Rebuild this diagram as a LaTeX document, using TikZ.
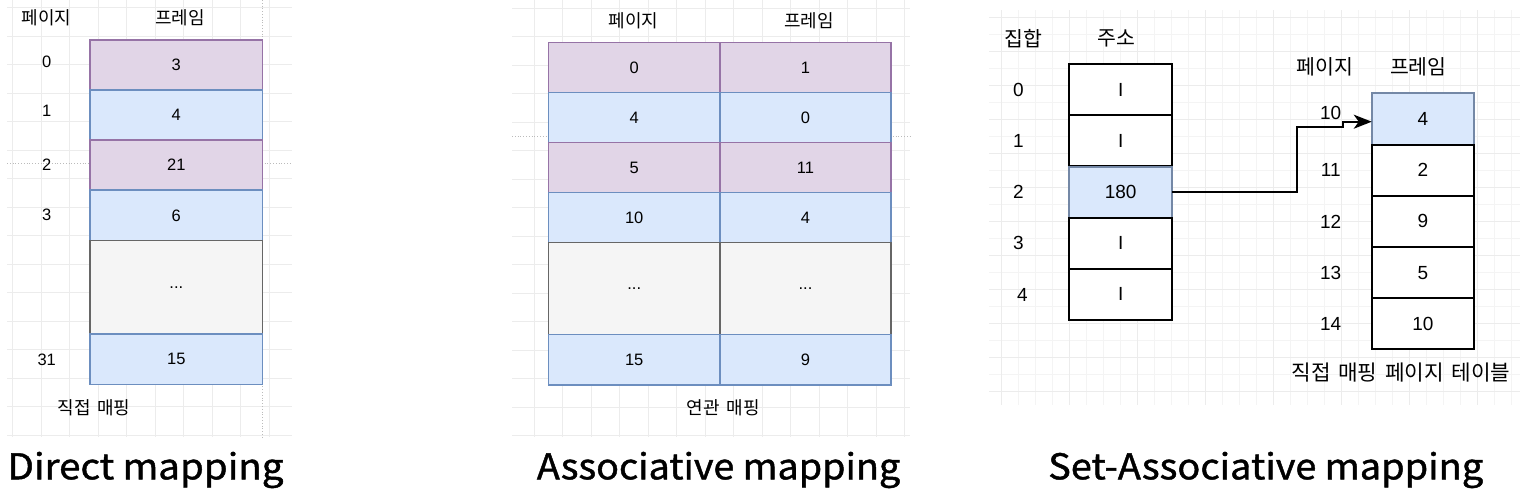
\documentclass[tikz,border=0pt]{standalone}
\usepackage{fontspec}
\setmainfont{Liberation Sans}
\newfontfamily\kr{Noto Sans CJK KR}
\newfontfamily\krw[WordSpace=1.6]{Noto Sans CJK KR}
\newfontfamily\krt[FakeBold=1.2]{Noto Sans CJK KR}
\usetikzlibrary{arrows.meta}
\definecolor{pfill}{HTML}{E1D5E7}
\definecolor{pline}{HTML}{9673A6}
\definecolor{bfill}{HTML}{DAE8FC}
\definecolor{bline}{HTML}{6C8EBF}
\definecolor{gfill}{HTML}{F5F5F5}
\definecolor{gline}{HTML}{666666}
\definecolor{gridc}{HTML}{ECECEC}
\definecolor{gridm}{HTML}{F4F4F4}
\definecolor{guide}{HTML}{BBBBBB}
\tikzset{
  cell/.style={draw, rectangle, inner sep=0pt, outer sep=0pt, line width=1.3pt,
    font=\fontsize{16.5}{19}\selectfont},
  pcell/.style={cell, fill=pfill, draw=pline},
  bcell/.style={cell, fill=bfill, draw=bline},
  gcell/.style={cell, fill=gfill, draw=gline},
  rcell/.style={draw=black, fill=white, rectangle, inner sep=0pt, outer sep=0pt,
    line width=1.8pt, font=\fontsize{19}{22}\selectfont},
  rbcell/.style={rcell, fill=bfill, draw=bline!60!gray},
  num/.style={inner sep=0pt, font=\fontsize{16.5}{19}\selectfont},
  rnum/.style={inner sep=0pt, font=\fontsize{19}{22}\selectfont},
  ko/.style={inner sep=0pt, font=\kr\fontsize{18}{21}\selectfont},
  rko/.style={inner sep=0pt, font=\kr\fontsize{20.5}{24}\selectfont},
  rkow/.style={inner sep=0pt, font=\krw\fontsize{21.3}{24}\selectfont},
  title/.style={inner sep=0pt, anchor=base west},
  link/.style={line width=2pt, -{Stealth[length=18pt, width=14pt, inset=5pt]}},
}
\newcommand{\ttlbox}[2]{\resizebox{#1pt}{26pt}{\krt\fontsize{36}{40}\selectfont\vphantom{H}\smash{#2}}}
\newcommand{\tsp}{\hspace{0.22em}}
\begin{document}
\begin{tikzpicture}[x=1pt, y=-1pt]
\useasboundingbox (0,0) rectangle (1520,493);
% grids
\foreach \x in {12.7,41.2,...,292} \draw[gridc, line width=0.8pt] (\x,0) -- (\x,437);
\foreach \y in {7.5,36,...,437} \draw[gridc, line width=0.8pt] (7,\y) -- (292,\y);
\foreach \x in {534.2,562.7,...,910} \draw[gridc, line width=0.8pt] (\x,0) -- (\x,437);
\foreach \y in {8.3,36.8,...,437} \draw[gridc, line width=0.8pt] (512,\y) -- (910,\y);
\foreach \x in {1001.7,1018.7,...,1520} \draw[gridm, line width=0.8pt] (\x,10) -- (\x,405);
\foreach \y in {17.7,34.7,...,405} \draw[gridm, line width=0.8pt] (989,\y) -- (1520,\y);
\foreach \x in {1001.7,1069.7,...,1520} \draw[gridc, line width=0.8pt] (\x,10) -- (\x,405);
\foreach \y in {17.7,51.7,...,405} \draw[gridc, line width=0.8pt] (989,\y) -- (1520,\y);
% guide lines
\draw[guide, dotted, line width=0.8pt] (7,163.3) -- (292,163.3);
\draw[guide, dotted, line width=0.8pt] (262.7,0) -- (262.7,437);
\draw[guide, dotted, line width=0.8pt] (512,136) -- (910,136);

% ---------- Direct mapping ----------
\node[ko] (dhp) at (46.7,17.5) {페이지};
\node[ko] (dhf) at (180,17.5) {프레임};
\node[pcell, minimum width=172.7pt, minimum height=50pt] (d0) at (176.3,65) {3};
\node[bcell, minimum width=172.7pt, minimum height=50pt] (d1) at (176.3,115) {4};
\node[pcell, minimum width=172.7pt, minimum height=50pt] (d2) at (176.3,165) {21};
\node[bcell, minimum width=172.7pt, minimum height=50.7pt] (d3) at (176.3,215.4) {6};
\node[gcell, minimum width=172.7pt, minimum height=93.3pt] (d4) at (176.3,287.4) {...};
\node[bcell, minimum width=172.7pt, minimum height=50.3pt] (d5) at (176.3,359.2) {15};
\node[num] (dp0) at (46.7,61.7) {0};
\node[num] (dp1) at (46.7,111) {1};
\node[num] (dp2) at (46.7,165) {2};
\node[num] (dp3) at (46.7,215) {3};
\node[num] (dp31) at (46.7,360) {31};
\node[ko] (dcap) at (94,408) {직접 매핑};

% ---------- Associative mapping ----------
\node[ko] (ahp) at (633.3,20.7) {페이지};
\node[ko] (ahf) at (809,20.7) {프레임};
\node[pcell, minimum width=171.7pt, minimum height=50pt] (ap0) at (634.2,67.7) {0};
\node[pcell, minimum width=171pt, minimum height=50pt] (af0) at (805.5,67.7) {1};
\node[bcell, minimum width=171.7pt, minimum height=50pt] (ap1) at (634.2,117.7) {4};
\node[bcell, minimum width=171pt, minimum height=50pt] (af1) at (805.5,117.7) {0};
\node[pcell, minimum width=171.7pt, minimum height=50pt] (ap2) at (634.2,167.7) {5};
\node[pcell, minimum width=171pt, minimum height=50pt] (af2) at (805.5,167.7) {11};
\node[bcell, minimum width=171.7pt, minimum height=50pt] (ap3) at (634.2,217.7) {10};
\node[bcell, minimum width=171pt, minimum height=50pt] (af3) at (805.5,217.7) {4};
\node[gcell, minimum width=171.7pt, minimum height=91.6pt] (ap4) at (634.2,288.5) {...};
\node[gcell, minimum width=171pt, minimum height=91.6pt] (af4) at (805.5,288.5) {...};
\node[bcell, minimum width=171.7pt, minimum height=50.7pt] (ap5) at (634.2,359.7) {15};
\node[bcell, minimum width=171pt, minimum height=50.7pt] (af5) at (805.5,359.7) {9};
\node[ko] (acap) at (723.3,407.3) {연관 매핑};

% ---------- Set-Associative mapping ----------
\node[rko] (shs) at (1023.3,38.3) {집합};
\node[rko] (sha) at (1116.7,38.3) {주소};
\node[rcell, minimum width=102.7pt, minimum height=51pt] (a0) at (1120.7,89.8) {I};
\node[rcell, minimum width=102.7pt, minimum height=51pt] (a1) at (1120.7,140.8) {I};
\node[rbcell, minimum width=102.7pt, minimum height=51pt] (a2) at (1120.7,192.3) {180};
\node[rcell, minimum width=102.7pt, minimum height=51pt] (a3) at (1120.7,243.3) {I};
\node[rcell, minimum width=102.7pt, minimum height=51pt] (a4) at (1120.7,294.2) {I};
\node[rnum] (s0) at (1018.3,90) {0};
\node[rnum] (s1) at (1018.3,140.7) {1};
\node[rnum] (s2) at (1018.3,192) {2};
\node[rnum] (s3) at (1018.3,243.3) {3};
\node[rnum] (s4) at (1022.3,295) {4};

\node[rko] (shp) at (1325,67.3) {페이지};
\node[rko] (shf) at (1418.3,67.3) {프레임};
\node[rbcell, minimum width=102.3pt, minimum height=51.7pt] (f0) at (1422.9,119.2) {4};
\node[rcell, minimum width=102.3pt, minimum height=51pt] (f1) at (1422.9,170.3) {2};
\node[rcell, minimum width=102.3pt, minimum height=51pt] (f2) at (1422.9,221.4) {9};
\node[rcell, minimum width=102.3pt, minimum height=51pt] (f3) at (1422.9,272.6) {5};
\node[rcell, minimum width=102.3pt, minimum height=51pt] (f4) at (1422.9,323.7) {10};
\node[rnum] (p10) at (1330.7,112.7) {10};
\node[rnum] (p11) at (1330.7,170) {11};
\node[rnum] (p12) at (1330.7,221.7) {12};
\node[rnum] (p13) at (1330.7,272.5) {13};
\node[rnum] (p14) at (1330.7,323.7) {14};
\node[rkow] (scap) at (1401,373) {직접 매핑 페이지 테이블};

\coordinate (j1) at (1297.3,127.3);
\coordinate (j2) at (1342.7,127.3);
\draw[link] (a2.east) -| (j1) -- (j2) |- ([yshift=-2.5pt]f0.west);

% ---------- titles ----------
\node[title] (t1) at (7.3,479.3) {\ttlbox{276}{Direct\tsp mapping}};
\node[title] (t2) at (536.7,479.3) {\ttlbox{363.3}{Associative\tsp mapping}};
\node[title] (t3) at (1048,479.3) {\ttlbox{435}{Set-Associative\tsp mapping}};
\end{tikzpicture}
\end{document}
